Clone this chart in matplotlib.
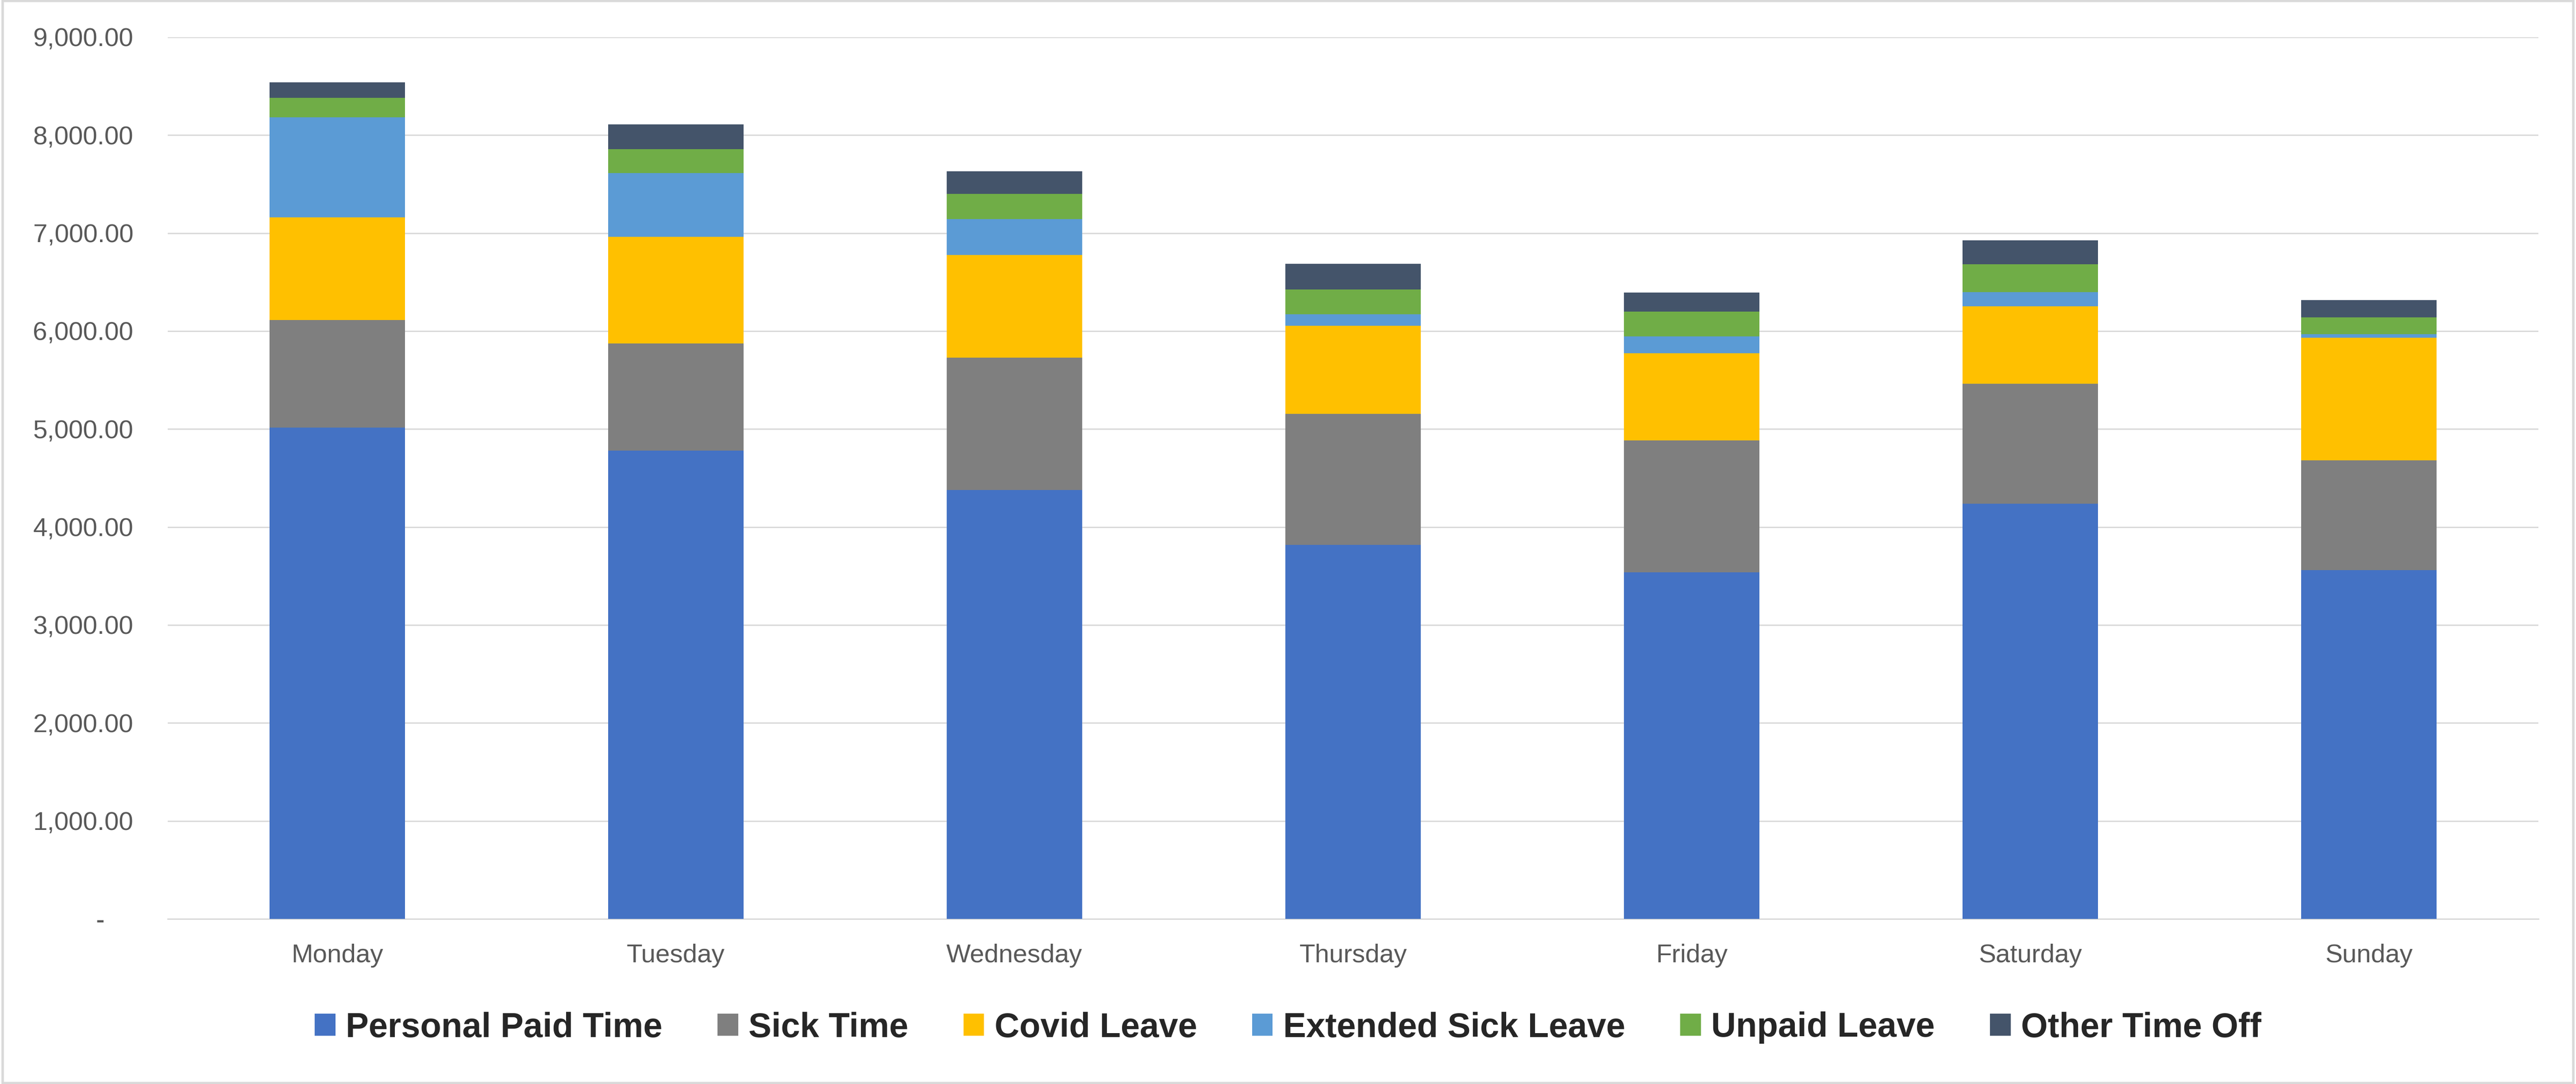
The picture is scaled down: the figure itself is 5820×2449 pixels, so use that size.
import matplotlib.pyplot as plt
from matplotlib.patches import Rectangle
from matplotlib.ticker import FuncFormatter, MultipleLocator

plt.rcParams['font.family'] = ['Liberation Sans Narrow', 'Liberation Sans', 'DejaVu Sans']

days = ['Monday', 'Tuesday', 'Wednesday', 'Thursday', 'Friday', 'Saturday', 'Sunday']

personal_paid = [5017, 4779, 4377, 3817, 3536, 4240, 3562]
sick_time = [1097, 1096, 1353, 1339, 1350, 1223, 1119]
covid_leave = [1045, 1087, 1049, 899, 886, 790, 1252]
extended_sick = [1021, 650, 366, 118, 173, 144, 37]
unpaid_leave = [201, 246, 256, 253, 252, 286, 168]
other_time_off = [159, 253, 232, 263, 197, 242, 178]

series = [
    ('Personal Paid Time', personal_paid, '#4472C4'),
    ('Sick Time', sick_time, '#7F7F7F'),
    ('Covid Leave', covid_leave, '#FFC000'),
    ('Extended Sick Leave', extended_sick, '#5B9BD5'),
    ('Unpaid Leave', unpaid_leave, '#70AD47'),
    ('Other Time Off', other_time_off, '#44546A'),
]

W, H = 5820, 2449
fig = plt.figure(figsize=(W / 100, H / 100), dpi=100)
# axes box in pixel terms: x 379..5735, y 84..2076 from top
ax = fig.add_axes([379 / W, 1 - 2076 / H, (5735 - 379) / W, (2076 - 84) / H])

x = range(len(days))
bottom = [0] * len(days)
for name, vals, col in series:
    ax.bar(x, vals, width=0.40, bottom=bottom, color=col, label=name, zorder=3)
    bottom = [b + v for b, v in zip(bottom, vals)]

ax.set_xlim(-0.5, len(days) - 0.5)
ax.set_ylim(0, 9000)
ax.yaxis.set_major_locator(MultipleLocator(1000))


def fmt(v, pos):
    if v == 0:
        return '-    '
    return f'{v:,.2f}'


ax.yaxis.set_major_formatter(FuncFormatter(fmt))
ax.grid(axis='y', color='#D9D9D9', linewidth=2.2, zorder=0)
ax.set_axisbelow(True)
for s in ['top', 'right', 'left']:
    ax.spines[s].set_visible(False)
ax.spines['bottom'].set_color('#D9D9D9')
ax.spines['bottom'].set_linewidth(2.2)

ax.set_xticks(list(x))
ax.set_xticklabels(days)
ax.tick_params(axis='both', length=0, labelsize=42, labelcolor='#595959')
ax.tick_params(axis='x', pad=40)
ax.tick_params(axis='y', pad=56)

leg = fig.legend(loc='center', bbox_to_anchor=(0.5, 1 - 2322 / H), ncol=6,
                 frameon=False, handlelength=0.6, handleheight=0.6,
                 handletextpad=0.3, columnspacing=1.6,
                 prop={'size': 56, 'weight': 'bold'})
for t in leg.get_texts():
    t.set_color('#262626')

fig.patches.append(Rectangle((0.001, 0.001), 0.998, 0.998, transform=fig.transFigure,
                             fill=False, edgecolor='#D9D9D9', linewidth=4))

fig.savefig('out.png', dpi=100, facecolor='white')
